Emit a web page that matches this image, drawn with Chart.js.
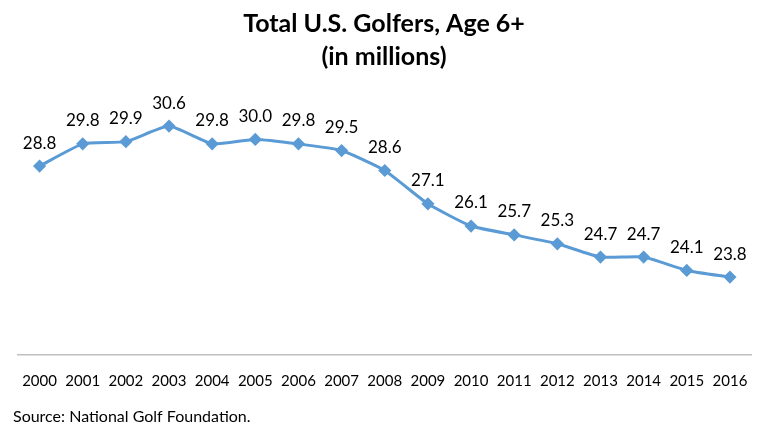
<!DOCTYPE html>
<html>
<head>
<meta charset="utf-8">
<script src="https://cdn.jsdelivr.net/npm/chart.js@4.4.1/dist/chart.umd.min.js"></script>
<style>
  html, body { margin: 0; padding: 0; background: #fff; }
  #wrap { width: 759px; height: 426px; }
</style>
</head>
<body>
<div id="wrap"><canvas id="chart"></canvas></div>
<script>
const years = ['2000', '2001', '2002', '2003', '2004', '2005', '2006', '2007', '2008',
  '2009', '2010', '2011', '2012', '2013', '2014', '2015', '2016'];
const golfers = [28.8, 29.8, 29.9, 30.6, 29.8, 30.0, 29.8, 29.5, 28.6,
  27.1, 26.1, 25.7, 25.3, 24.7, 24.7, 24.1, 23.8];
const titleLines = ['Total U.S. Golfers, Age 6+', '(in millions)'];
const sourceNote = 'Source: National Golf Foundation.';

const FONT = 'Lato, "Open Sans", sans-serif';

// draws the value above each point
const valueLabels = {
  id: 'valueLabels',
  afterDatasetsDraw(chart) {
    const ctx = chart.ctx;
    const meta = chart.getDatasetMeta(0);
    ctx.save();
    ctx.font = '17px ' + FONT;
    ctx.fillStyle = '#000';
    ctx.textAlign = 'center';
    ctx.textBaseline = 'middle';
    meta.data.forEach((pt, i) => {
      ctx.fillText(golfers[i].toFixed(1), pt.x, pt.y - 23);
    });
    ctx.restore();
  }
};

new Chart(document.getElementById('chart'), {
  type: 'line',
  data: {
    labels: years,
    datasets: [
      {
        data: golfers,
        borderColor: '#5b9bd5',
        backgroundColor: '#5b9bd5',
        borderWidth: 3,
        pointStyle: 'rectRot',
        pointRadius: 4.5,
        pointHoverRadius: 4.5,
        tension: 0.15,
      },
    ],
  },
  options: {
    responsive: true,
    maintainAspectRatio: false,
    animation: false,
    layout: {
      padding: { left: 13, right: 4, top: 8, bottom: 0 },
    },
    plugins: {
      legend: { display: false },
      tooltip: { enabled: false },
      title: {
        display: true,
        text: titleLines,
        color: '#000',
        font: { family: FONT, size: 25, weight: 'bold', lineHeight: 1.3 },
        padding: { top: 0, bottom: 22 },
      },
      subtitle: {
        display: true,
        position: 'bottom',
        align: 'start',
        text: sourceNote,
        color: '#000',
        font: { family: FONT, size: 16 },
        padding: { top: 0, bottom: 0 },
      },
    },
    scales: {
      x: {
        offset: true,
        grid: { display: false, drawTicks: false },
        border: { display: true, color: '#bfbfbf', width: 1.5 },
        ticks: {
          color: '#000',
          font: { family: FONT, size: 15 },
          padding: 17,
          maxRotation: 0,
          autoSkip: false,
        },
        afterFit(scale) {
          scale.paddingLeft = 18;
          scale.paddingRight = 0;
        },
      },
      y: {
        display: false,
        min: 20.3,
        max: 32,
      },
    },
  },
  plugins: [valueLabels],
});
</script>
</body>
</html>
